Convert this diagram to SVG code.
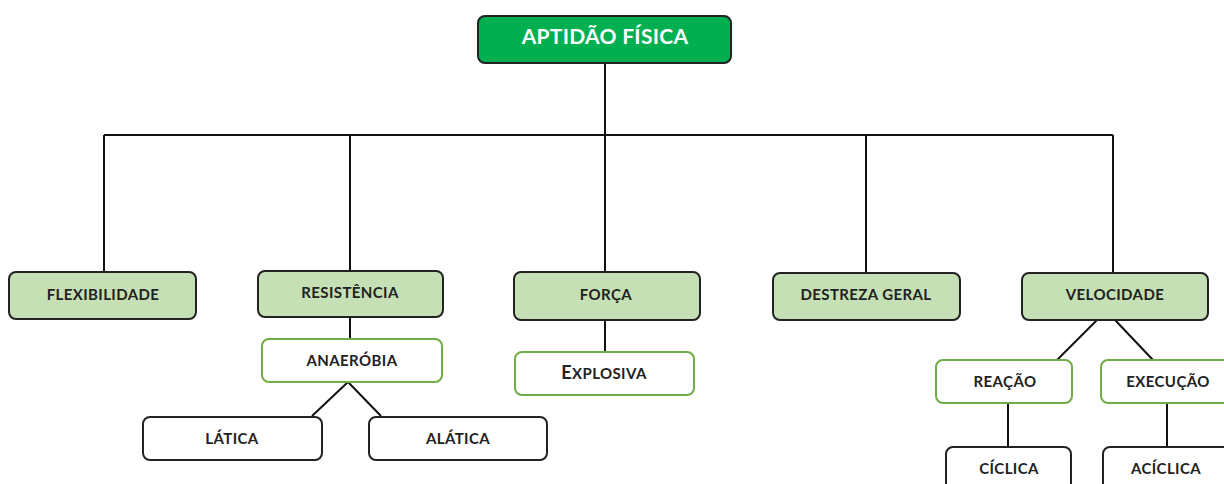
<svg xmlns="http://www.w3.org/2000/svg" width="1224" height="484" viewBox="0 0 1224 484">
<style>
.lbl{font-family:Lato,"Noto Sans","Liberation Sans",sans-serif;font-weight:bold;font-size:15px;letter-spacing:0.4px;fill:#222;text-anchor:middle}
.top{font-family:Lato,"Noto Sans","Liberation Sans",sans-serif;font-weight:bold;font-size:21px;letter-spacing:0.3px;fill:#fff;text-anchor:middle}
.main{fill:#00B050;stroke:#222;stroke-width:2}
.cat{fill:#C5E0B4;stroke:#222;stroke-width:2}
.sub{fill:#fff;stroke:#70AD47;stroke-width:2}
.leaf{fill:#fff;stroke:#222;stroke-width:2}
.con{stroke:#111;stroke-width:2;fill:none}
</style>
<rect width="1224" height="484" fill="#fff"/>
<g id="connectors">
<path class="con" d="M605 63V135M104 135H1113M104 135V272M350 135V271M605 135V272M866 135V273M1113 135V273"/>
<path class="con" d="M350 317V339M605 320V352"/>
<path class="con" d="M348 382L312 416M348 382L381 416"/>
<path class="con" d="M1097 320L1057 360M1115 320L1153 360"/>
<path class="con" d="M1008 403V447M1167 403V447"/>
</g>
<g id="aptidao"><rect class="main" x="478" y="16" width="253" height="47" rx="7"/><text class="top" x="605" y="44">APTIDÃO FÍSICA</text></g>
<g id="flexibilidade"><rect class="cat" x="9" y="272" width="187" height="47" rx="7"/><text class="lbl" x="103" y="300">FLEXIBILIDADE</text></g>
<g id="resistencia"><rect class="cat" x="258" y="271" width="185" height="46" rx="7"/><text class="lbl" x="350" y="298">RESISTÊNCIA</text></g>
<g id="forca"><rect class="cat" x="514" y="272" width="186" height="48" rx="7"/><text class="lbl" x="606" y="300">FORÇA</text></g>
<g id="destreza"><rect class="cat" x="773" y="273" width="187" height="47" rx="7"/><text class="lbl" x="866" y="300">DESTREZA GERAL</text></g>
<g id="velocidade"><rect class="cat" x="1022" y="273" width="186" height="47" rx="7"/><text class="lbl" x="1115" y="300">VELOCIDADE</text></g>
<g id="anaerobia"><rect class="sub" x="262" y="339" width="180" height="43" rx="7"/><text class="lbl" x="352" y="366">ANAERÓBIA</text></g>
<g id="latica"><rect class="leaf" x="143" y="417" width="179" height="43" rx="7"/><text class="lbl" x="232" y="444">LÁTICA</text></g>
<g id="alatica"><rect class="leaf" x="369" y="417" width="178" height="43" rx="7"/><text class="lbl" x="458" y="444">ALÁTICA</text></g>
<g id="explosiva"><rect class="sub" x="515" y="352" width="179" height="43" rx="7"/><text class="lbl" x="604" y="379"><tspan font-size="18">E</tspan>XPLOSIVA</text></g>
<g id="reacao"><rect class="sub" x="936" y="360" width="136" height="43" rx="7"/><text class="lbl" x="1005" y="387">REAÇÃO</text></g>
<g id="execucao"><rect class="sub" x="1101" y="360" width="132" height="43" rx="7"/><text class="lbl" x="1168" y="387">EXECUÇÃO</text></g>
<g id="ciclica"><rect class="leaf" x="946" y="447" width="125" height="45" rx="7"/><text class="lbl" x="1009" y="474">CÍCLICA</text></g>
<g id="aciclica"><rect class="leaf" x="1103" y="447" width="130" height="45" rx="7"/><text class="lbl" x="1166" y="474">ACÍCLICA</text></g>
</svg>
